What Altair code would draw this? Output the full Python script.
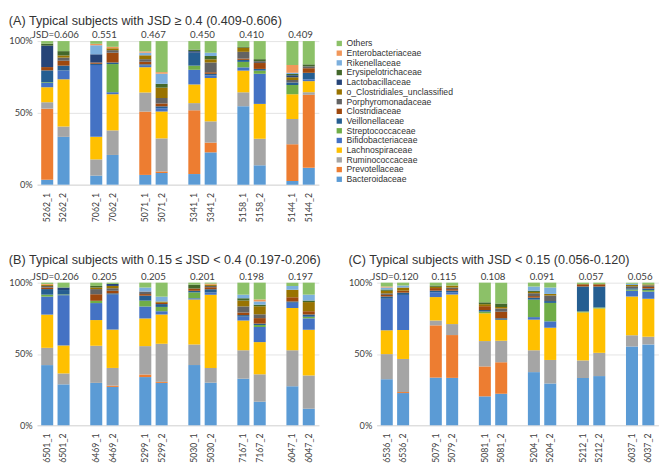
import altair as alt
import pandas as pd

families = ["Bacteroidaceae", "Prevotellaceae", "Ruminococcaceae", "Lachnospiraceae",
            "Bifidobacteriaceae", "Streptococcaceae", "Veillonellaceae", "Clostridiaceae",
            "Porphyromonadaceae", "o_Clostridiales_unclassified", "Lactobacillaceae",
            "Erysipelotrichaceae", "Rikenellaceae", "Enterobacteriaceae", "Others"]
colors = ["#5B9BD5", "#ED7D31", "#A5A5A5", "#FFC000", "#4472C4", "#70AD47", "#255E91",
          "#9E480E", "#636363", "#997300", "#264478", "#43682B", "#7CAFDD", "#F1975A", "#8CC168"]

subjects_a = ["5262", "7062", "5071", "5341", "5158", "5144"]
subjects_b = ["6501", "6469", "5299", "5030", "7167", "6047"]
subjects_c = ["6536", "5079", "5081", "5204", "5212", "6037"]
jsd_a = ["JSD=0.606", "0.551", "0.467", "0.450", "0.410", "0.409"]
jsd_b = ["JSD=0.206", "0.205", "0.205", "0.201", "0.198", "0.197"]
jsd_c = ["JSD=0.120", "0.115", "0.108", "0.091", "0.057", "0.056"]

title_a = "(A) Typical subjects with JSD \u2265 0.4 (0.409-0.606)"
title_b = "(B) Typical subjects with 0.15 \u2264 JSD < 0.4 (0.197-0.206)"
title_c = "(C) Typical subjects with JSD < 0.15 (0.056-0.120)"

# relative abundance (%) per sample, order: A (12 samples), B (12), C (12)
Bacteroidaceae = [3.4, 33.3, 6.3, 20.7, 6.8, 8.1, 7.4, 22.5, 54.7, 13.5, 2.5, 11.7,
                  42.2, 28.8, 29.7, 26.9, 33.8, 29.7, 42.2, 29.9, 32.6, 16.7, 27.4, 11.6,
                  32.3, 22.6, 33.4, 33.2, 20.3, 22.1, 37.2, 29.3, 33.4, 34.5, 55.3, 56.7]
Prevotellaceae = [49.8, 0, 0, 0, 44.1, 1.1, 44.4, 6.8, 0, 0, 25.7, 50.9,
                  0, 0, 0, 0.9, 1.8, 0.7, 0, 0, 0, 0, 0, 0,
                  0, 0.7, 36.6, 30.0, 21.0, 22.1, 0, 0, 0, 0, 0, 0]
Ruminococcaceae = [4.5, 7.2, 11.3, 17.1, 13.3, 23.0, 5.0, 14.8, 9.7, 18.5, 17.5, 1.8,
                   12.1, 7.7, 26.0, 12.4, 19.9, 26.7, 14.4, 10.3, 19.9, 19.4, 25.1, 23.3,
                   17.6, 23.2, 3.4, 7.7, 17.8, 15.1, 15.3, 16.5, 12.4, 16.3, 7.9, 5.4]
Lachnospiraceae = [10.5, 32.9, 15.7, 25.2, 17.6, 18.7, 13.0, 30.2, 15.1, 24.3, 17.4, 7.7,
                   23.3, 19.7, 18.0, 26.9, 19.4, 20.5, 31.5, 51.4, 20.8, 22.8, 29.7, 32.0,
                   16.7, 20.3, 16.4, 20.7, 19.5, 14.7, 21.4, 22.6, 33.9, 31.1, 27.1, 26.6]
Bifidobacteriaceae = [3.0, 6.1, 50.0, 1.4, 1.1, 2.3, 10.2, 1.8, 2.3, 21.0, 0, 1.3,
                      12.6, 35.4, 11.9, 24.5, 8.4, 2.3, 0.9, 1.6, 2.7, 10.7, 3.6, 8.0,
                      22.1, 24.6, 3.4, 1.6, 0, 0, 1.8, 4.5, 0, 0, 4.1, 5.0]
Streptococcaceae = [0.5, 0, 0, 19.6, 0, 0, 2.9, 0, 3.8, 2.2, 6.3, 0,
                    1.4, 0.5, 1.6, 0, 4.1, 3.0, 4.1, 0, 0, 1.4, 0, 1.1,
                    0, 0, 0, 0, 1.2, 0, 12.2, 12.9, 0.7, 0.7, 0.9, 1.1]
Veillonellaceae = [8.3, 3.4, 0.9, 1.1, 0.9, 1.3, 9.0, 1.1, 1.4, 1.2, 1.8, 4.5,
                   3.9, 3.1, 0, 0.9, 3.5, 2.0, 1.1, 2.3, 1.1, 1.0, 0.9, 1.6,
                   1.6, 1.6, 1.1, 1.1, 1.1, 1.1, 1.4, 1.3, 17.6, 14.7, 0.9, 1.1]
Clostridiaceae = [2.3, 3.4, 0.9, 6.8, 1.8, 2.0, 0, 1.1, 0.9, 4.1, 0, 3.2,
                  1.1, 0, 4.6, 1.8, 1.1, 0.9, 1.6, 1.4, 1.8, 3.9, 3.0, 2.3,
                  1.1, 1.4, 1.8, 1.1, 2.7, 4.5, 1.1, 0, 1.6, 1.6, 0, 1.1]
Porphyromonadaceae = [0, 2.2, 0, 1.8, 1.8, 3.8, 0, 6.8, 4.7, 1.3, 1.8, 1.3,
                      1.1, 0, 3.6, 1.8, 1.8, 0, 0, 0.9, 4.3, 2.7, 0, 0,
                      1.1, 0, 0, 1.1, 0, 2.3, 2.0, 3.9, 0, 0, 1.4, 1.1]
o_Clostridiales_unclassified = [0, 1.5, 0, 1.3, 2.7, 7.2, 0, 2.2, 2.9, 0, 1.8, 0,
                                0.9, 0, 1.1, 1.6, 0, 0.9, 0, 0.9, 4.1, 5.7, 5.2, 6.4,
                                1.8, 2.2, 0.9, 1.4, 1.4, 1.1, 0.9, 1.1, 0, 0, 0.9, 0.7]
Lactobacillaceae = [15.0, 0, 5.7, 0, 0, 0, 1.1, 0, 0, 0, 1.4, 0,
                    0, 1.8, 0, 1.4, 0, 0, 0, 0, 0, 0, 0, 0,
                    0, 0, 0, 0, 0, 0, 0, 0, 0, 0, 0, 0]
Erysipelotrichaceae = [1.4, 3.0, 0, 0, 0, 2.7, 1.1, 2.3, 0.5, 1.4, 0.9, 1.4,
                       0, 0, 1.1, 0, 0, 0, 2.7, 0, 1.6, 1.1, 0, 1.1,
                       0.9, 0, 0.9, 0, 1.3, 2.3, 0.9, 0, 0, 0, 0, 0]
Rikenellaceae = [0, 0, 6.3, 0, 1.8, 7.0, 0, 2.3, 0, 0, 0.9, 0,
                 0, 0, 0, 0, 2.8, 3.4, 0, 0, 2.5, 2.3, 2.7, 4.1,
                 1.4, 1.4, 0, 0, 0, 0, 2.9, 4.5, 0, 0, 0.9, 0]
Enterobacteriaceae = [0, 0, 1.0, 1.0, 0.9, 1.1, 0, 0, 0, 0, 5.4, 0,
                      0.5, 0, 0, 0, 0, 0, 0, 0.7, 0, 1.4, 0, 0,
                      0.7, 0, 0, 0, 0, 0, 0, 0, 0, 0, 0, 0]
Others = [1.8, 7.0, 1.9, 4.0, 7.2, 21.6, 5.9, 8.1, 4.1, 12.6, 16.7, 16.2,
          0.9, 3.4, 2.3, 0.9, 3.4, 9.8, 1.4, 0.7, 8.4, 11.9, 2.3, 8.4,
          2.7, 2.0, 2.0, 2.0, 13.8, 14.7, 2.7, 3.4, 1.1, 1.1, 0.7, 1.2]

series = [Bacteroidaceae, Prevotellaceae, Ruminococcaceae, Lachnospiraceae, Bifidobacteriaceae,
          Streptococcaceae, Veillonellaceae, Clostridiaceae, Porphyromonadaceae,
          o_Clostridiales_unclassified, Lactobacillaceae, Erysipelotrichaceae, Rikenellaceae,
          Enterobacteriaceae, Others]


def samples_of(subjects):
    return [f"{s}_{i}" for s in subjects for i in (1, 2)]


all_samples = samples_of(subjects_a) + samples_of(subjects_b) + samples_of(subjects_c)
rows = []
for fi, (fam, vals) in enumerate(zip(families, series)):
    for si, smp in enumerate(all_samples):
        rows.append({"sample": smp, "family": fam, "idx": fi, "value": vals[si],
                     "panel": "A" if si < 12 else ("B" if si < 24 else "C")})
df = pd.DataFrame(rows)

color = alt.Color(
    "family:N",
    scale=alt.Scale(domain=families[::-1], range=colors[::-1]),
    legend=alt.Legend(title=None, orient="none", legendX=307, legendY=-2,
                      symbolType="square", symbolSize=30, symbolStrokeWidth=0,
                      labelFont="Liberation Sans", labelFontSize=8.9, labelColor="#333333",
                      rowPadding=0, labelOffset=3, padding=0),
)


def panel(subjects, jsd, title, panel_id, height, toffset):
    dom = []
    for k, s in enumerate(subjects):
        if k > 0:
            dom.append(f"gap{k}")
        dom += [f"{s}_1", f"{s}_2"]
    xsc = alt.Scale(domain=dom, paddingInner=0.265, paddingOuter=0.25)
    xax = alt.Axis(title=None, labelAngle=270, ticks=False, domainColor="#d9d9d9",
                   labelExpr="indexof(datum.value, 'gap') >= 0 ? '' : datum.value",
                   labelFont="Lato", labelFontSize=9, labelColor="#404040", labelPadding=8)
    bars = alt.Chart(df[df.panel == panel_id]).mark_bar().encode(
        x=alt.X("sample:N", scale=xsc, axis=xax),
        y=alt.Y("value:Q", stack="normalize",
                axis=alt.Axis(title=None, format="%", values=[0, 0.5, 1], domain=False,
                              ticks=False, gridColor="#e3e3e3", labelFont="Lato",
                              labelFontSize=9.5, labelColor="#404040", labelPadding=5)),
        color=color,
        order=alt.Order("idx:Q", sort="ascending"),
    )
    jdf = pd.DataFrame({"sample": [f"{s}_1" for s in subjects], "label": jsd})
    txt = alt.Chart(jdf).mark_text(font="Lato", fontSize=10, dx=8.4, dy=-3,
                                   baseline="alphabetic", color="#404040").encode(
        x=alt.X("sample:N", scale=xsc, axis=xax),
        y=alt.value(0),
        text="label:N",
    )
    return alt.layer(bars, txt).properties(
        width=alt.Step(16.85), height=height,
        title=alt.TitleParams(title, anchor="start", font="Liberation Sans", fontSize=13,
                              fontWeight="normal", color="#333333", offset=toffset),
    )


pa = panel(subjects_a, jsd_a, title_a, "A", 148, 3)
pb = panel(subjects_b, jsd_b, title_b, "B", 147, 5)
pc = panel(subjects_c, jsd_c, title_c, "C", 147, 5)

chart = alt.vconcat(pa, alt.hconcat(pb, pc, spacing=27), spacing=33).properties(
    padding=0
).configure_view(stroke=None)

chart.save("out.html", embed_options={"renderer": "svg", "actions": False})
